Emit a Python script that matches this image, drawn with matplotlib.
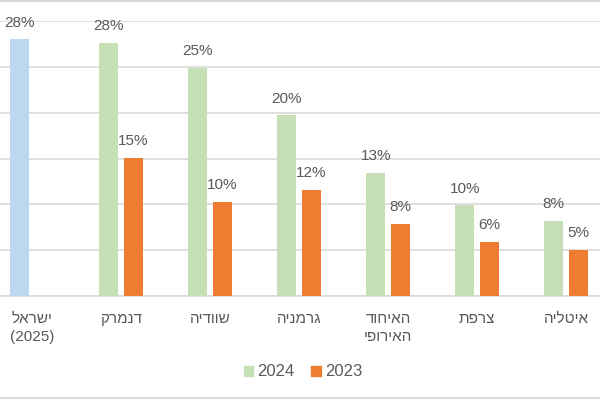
import matplotlib
matplotlib.use('Agg')
import matplotlib.pyplot as plt
from matplotlib.patches import Patch
from matplotlib.lines import Line2D
import numpy as np

plt.rcParams['font.family'] = ['Liberation Sans', 'DejaVu Sans']

# Hebrew labels in logical order; matplotlib has no bidi, so lines are reversed for display
categories = ['ישראל\n(2025)', 'דנמרק', 'שוודיה', 'גרמניה', 'האיחוד\nהאירופי', 'צרפת', 'איטליה']
values_2024 = [28.0, 27.6, 24.9, 19.7, 13.4, 9.9, 8.2]   # first one is Israel (2025)
values_2023 = [None, 15.1, 10.3, 11.6, 7.9, 5.9, 5.0]
series_names = ['2024', '2023']

col_israel = '#BDD7EE'
col_2024 = '#C5E0B4'
col_2023 = '#ED7D31'
txt_col = '#595959'
grid_col = '#D9D9D9'


def visual(s):
    # reverse each hebrew line, leave number lines alone
    out = []
    for line in s.split('\n'):
        if any('\u0590' <= ch <= '\u05FF' for ch in line):
            out.append(line[::-1])
        else:
            out.append(line)
    return '\n'.join(out)


fig = plt.figure(figsize=(6, 4), dpi=100)
ax = fig.add_axes([0, 0.26, 1, 0.6875])

x = np.arange(len(categories))
w = 0.215
off = 0.14

for i in x:
    c = col_israel if i == 0 else col_2024
    ax.bar(i - off, values_2024[i], width=w, color=c, zorder=3)
    ax.annotate(f'{values_2024[i]:.0f}%', (i - off, values_2024[i]),
                xytext=(0, 7), textcoords='offset points', ha='center', va='bottom',
                fontsize=11, color=txt_col)
    if values_2023[i] is not None:
        ax.bar(i + off, values_2023[i], width=w, color=col_2023, zorder=3)
        ax.annotate(f'{values_2023[i]:.0f}%', (i + off, values_2023[i]),
                    xytext=(0, 7), textcoords='offset points', ha='center', va='bottom',
                    fontsize=11, color=txt_col)

ax.set_xlim(-0.36, 6.38)
ax.set_ylim(0, 30)
ax.set_yticks(np.arange(0, 31, 5))
ax.yaxis.grid(True, color=grid_col, linewidth=1.2, zorder=0)
ax.tick_params(axis='y', left=False, labelleft=False)
ax.tick_params(axis='x', bottom=False, pad=8)
ax.set_xticks(x)
ax.set_xticklabels([visual(c) for c in categories], fontsize=11, color=txt_col,
                   linespacing=1.35, va='top')
for s in ['top', 'left', 'right']:
    ax.spines[s].set_visible(False)
ax.spines['bottom'].set_color(grid_col)
ax.spines['bottom'].set_linewidth(1.2)

handles = [Patch(color=col_2024), Patch(color=col_2023)]
fig.legend(handles, series_names, loc='center', bbox_to_anchor=(0.505, 0.07), ncol=2,
           frameon=False, fontsize=12, handlelength=0.55, handleheight=0.55,
           handletextpad=0.25, columnspacing=1.0, labelcolor=txt_col)

# thin frame lines at top and bottom of the picture
for yy in (0.998, 0.004):
    fig.add_artist(Line2D([0, 1], [yy, yy], transform=fig.transFigure,
                          color=grid_col, linewidth=1.5))

fig.savefig('out.png', dpi=100)
